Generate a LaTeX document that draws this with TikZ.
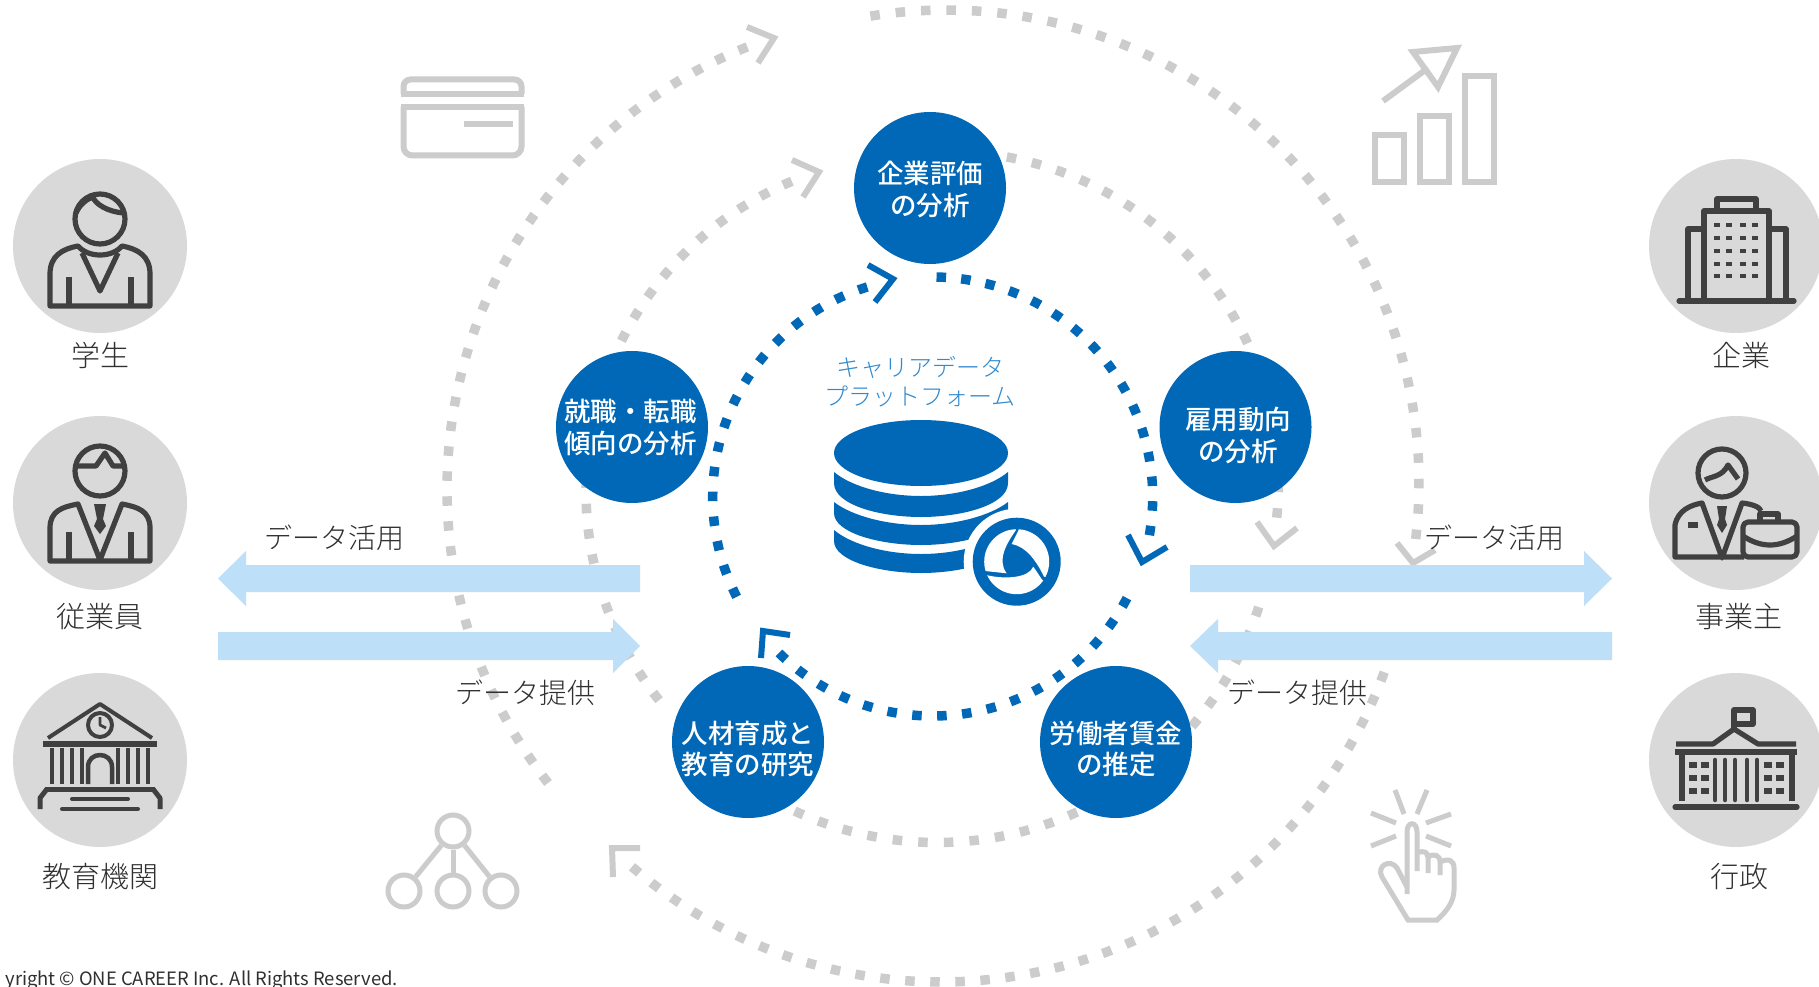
\documentclass[tikz,border=0pt]{standalone}
\usepackage{fontspec}
\setmainfont{Noto Sans CJK JP}
\newfontfamily\lightjp{Noto Sans CJK JP Light}
\newfontfamily\medjp{Noto Sans CJK JP Medium}
\definecolor{mainblue}{HTML}{0068B7}
\definecolor{lightgray}{HTML}{CCCCCC}
\definecolor{bandblue}{HTML}{BDDFF7}
\definecolor{discgray}{HTML}{D9D9D9}
\definecolor{icondark}{HTML}{404040}
\definecolor{txtdark}{HTML}{303030}
\definecolor{txtblue}{HTML}{2F8AD0}
\newcommand\dotarc[6]{%
  \pgfmathsetmacro\dArcLen{abs(#6-#5)*3.14159/180*#4-9.5}%
  \pgfmathsetmacro\dArcN{round(\dArcLen/25.3)}%
  \pgfmathsetmacro\dArcGap{\dArcLen/\dArcN-9.5}%
  \draw[#1,line width=9.5pt,dash pattern=on 9.5pt off \dArcGap pt] plot[domain=#5:#6,samples=180] ({#2+#4*cos(\x)},{#3-#4*sin(\x)});%
}
\tikzset{
  disc/.style={circle,fill=discgray,minimum size=174pt,inner sep=0pt},
  bcirc/.style={circle,fill=mainblue,minimum size=152pt,inner sep=0pt},
  btxt/.style={text=white,font=\fontsize{26.5}{31.5}\selectfont\medjp,align=center,inner sep=0pt},
  lab/.style={text=txtdark,font=\fontsize{29}{34}\selectfont\lightjp,inner sep=0pt},
  dlab/.style={text=txtdark,font=\fontsize{28}{34}\selectfont\lightjp,inner sep=0pt},
  ic/.style={draw=icondark,line width=5.2pt,line join=round},
  gic/.style={draw=lightgray,line width=6pt},
  chevg/.style={draw=lightgray,line width=6pt},
  chevb/.style={draw=mainblue,line width=6pt},
  band/.style={fill=bandblue}
}
\begin{document}
\begin{tikzpicture}[x=1pt,y=-1pt]
\useasboundingbox (0,0) rectangle (1819,987);
\fill[white] (0,0) rectangle (1819,987);
% gray dotted arcs
\dotarc{lightgray}{946}{483}{473}{99.2}{-6.8}
\dotarc{lightgray}{941}{510}{472}{-20.1}{-130.9}
\dotarc{lightgray}{923.5}{489.6}{476.5}{218}{111.7}
\dotarc{lightgray}{947}{483}{331.5}{79.6}{-6}
\dotarc{lightgray}{937}{505}{337.5}{-17.6}{-128}
\dotarc{lightgray}{922}{491}{336}{218.5}{112.8}
\coordinate (gA1) at (747,27); \coordinate (gA2) at (774,38); \coordinate (gA3) at (758,63);
\coordinate (gB1) at (792,160); \coordinate (gB2) at (819,172); \coordinate (gB3) at (803,197);
\coordinate (gC1) at (1257,522); \coordinate (gC2) at (1274,546); \coordinate (gC3) at (1297,528);
\coordinate (gD1) at (1397,543); \coordinate (gD2) at (1413,563); \coordinate (gD3) at (1435,550);
\coordinate (gE1) at (640,848); \coordinate (gE2) at (612,848); \coordinate (gE3) at (613,877);
\draw[chevg] (gA1)--(gA2)--(gA3);
\draw[chevg] (gB1)--(gB2)--(gB3);
\draw[chevg] (gC1)--(gC2)--(gC3);
\draw[chevg] (gD1)--(gD2)--(gD3);
\draw[chevg] (gE1)--(gE2)--(gE3);
% gray icons
\draw[gic,rounded corners=7pt] (403.5,94) -- (403.5,79.5) -- (521.5,79.5) -- (521.5,94) ;
\draw[gic] (401,94) -- (524,94);
\draw[gic,rounded corners=9pt] (403.5,107) -- (403.5,155.5) -- (521.5,155.5) -- (521.5,107);
\draw[gic] (401,107) -- (524,107);
\draw[gic] (464,124) -- (513,124);
\draw[gic] (1375,135) rectangle (1404,182);
\draw[gic] (1420,116) rectangle (1449,182);
\draw[gic] (1465,76) rectangle (1494,182);
\draw[gic,line join=miter] (1413,52) -- (1457,48) -- (1438,87) -- cycle;
\draw[gic] (1383,101) -- (1428,68);
\node[circle,draw=lightgray,line width=5pt,minimum size=32pt,inner sep=0pt] (t0) at (453,831) {};
\node[circle,draw=lightgray,line width=5pt,minimum size=32pt,inner sep=0pt] (t1) at (404,891) {};
\node[circle,draw=lightgray,line width=5pt,minimum size=32pt,inner sep=0pt] (t2) at (453,891) {};
\node[circle,draw=lightgray,line width=5pt,minimum size=32pt,inner sep=0pt] (t3) at (501,891) {};
\draw[draw=lightgray,line width=5pt] (t0) -- (t1);
\draw[draw=lightgray,line width=5pt] (t0) -- (t2);
\draw[draw=lightgray,line width=5pt] (t0) -- (t3);
\begin{scope}[draw=lightgray,line width=5pt]
\draw (1395,790)--(1404,814); \draw (1427,790)--(1417,814);
\draw (1371,813)--(1396,823); \draw (1451,814)--(1426,823);
\draw (1371,846)--(1396,836); \draw (1451,846)--(1426,836);
\draw (1407,894) -- (1407,832) .. controls (1407,821) and (1417,821) .. (1417,832) -- (1417,871);
\draw (1417,853) .. controls (1424,850) and (1428,852) .. (1428,858) -- (1428,873);
\draw (1428,857) .. controls (1434,853) and (1440,855) .. (1440,862) -- (1440,875);
\draw (1440,862) .. controls (1448,858) and (1454,860) .. (1454,868) -- (1454,890) .. controls (1454,902) and (1446,912) .. (1437,920) -- (1408,920) -- (1382,877) .. controls (1376,866) and (1390,858) .. (1397,868) -- (1407,887);
\end{scope}
% bands
\fill[band] (218,578.5) -- (246,551) -- (246,565) -- (640,565) -- (640,592) -- (246,592) -- (246,606) -- cycle;
\fill[band] (218,632) -- (613,632) -- (613,619) -- (640,646) -- (613,673) -- (613,660) -- (218,660) -- cycle;
\fill[band] (1190,565) -- (1584,565) -- (1584,551) -- (1612,578.5) -- (1584,606) -- (1584,592) -- (1190,592) -- cycle;
\fill[band] (1190,646) -- (1218,619) -- (1218,632) -- (1612,632) -- (1612,660) -- (1218,660) -- (1218,673) -- cycle;
% blue dotted arcs
\dotarc{mainblue}{932.7}{497}{220}{89}{-10}
\dotarc{mainblue}{932.7}{497}{219}{-27.5}{-134.6}
\dotarc{mainblue}{932.7}{497}{220}{207}{107.3}
\coordinate (bA1) at (868,265); \coordinate (bA2) at (893,279); \coordinate (bA3) at (875,302);
\coordinate (bB1) at (1128,535); \coordinate (bB2) at (1142,562); \coordinate (bB3) at (1167,547);
\coordinate (bC1) at (790,635); \coordinate (bC2) at (763,631); \coordinate (bC3) at (761,658);
\draw[chevb] (bA1)--(bA2)--(bA3);
\draw[chevb] (bB1)--(bB2)--(bB3);
\draw[chevb] (bC1)--(bC2)--(bC3);
% blue circles
\node[bcirc] (c1) at (930,188) {};
\node[bcirc] (c2) at (1235.5,427) {};
\node[bcirc] (c3) at (632,427) {};
\node[bcirc] (c4) at (748,742) {};
\node[bcirc] (c5) at (1116,742) {};
\node[btxt] (c1t) at (930,189.5) {企業評価\\の分析};
\node[btxt] (c2t) at (1238,435.5) {雇用動向\\の分析};
\node[btxt] (c3t) at (630.5,427.5) {就職・転職\\傾向の分析};
\node[btxt] (c4t) at (748,749) {人材育成と\\教育の研究};
\node[btxt] (c5t) at (1116,749) {労働者賃金\\の推定};
% database
\fill[mainblue] (921,453) ellipse [x radius=87,y radius=33];
\fill[mainblue] (834,472) -- (834,483) .. controls (834,505) and (880,517) .. (921,517) .. controls (962,517) and (1008,505) .. (1008,483) -- (1008,472) .. controls (990,487) and (955,496) .. (921,496) .. controls (887,496) and (852,487) .. (834,472) -- cycle;
\fill[mainblue] (834,502) -- (834,513) .. controls (834,533) and (880,545) .. (921,545) .. controls (962,545) and (1008,533) .. (1008,513) -- (1008,502) .. controls (990,516) and (955,525) .. (921,525) .. controls (887,525) and (852,516) .. (834,502) -- cycle;
\begin{scope}
\clip (800,500) rectangle (965,600);
\fill[mainblue] (834,530) -- (834,541) .. controls (834,561) and (880,573) .. (921,573) .. controls (962,573) and (1008,561) .. (1008,541) -- (1008,530) .. controls (990,545) and (955,554) .. (921,554) .. controls (887,554) and (852,545) .. (834,530) -- cycle;
\end{scope}
% logo
\fill[white] (1016.7,561.7) circle[radius=53];
\fill[mainblue] (1016.7,561.7) circle[radius=44];
\begin{scope}
\clip (1016.7,561.7) circle[radius=32.5];
\begin{scope}[shift={(965,510)},x=0.3333pt,y=-0.3333pt]
\fill[white] (160,62) -- (165,45) -- (300,45) -- (300,215) -- (237,200) .. controls (215,155) and (185,110) .. (140,102) -- cycle;
\fill[white] (232,210) -- (260,225) -- (260,300) -- (50,300) -- (50,192) -- (72,197) .. controls (120,207) and (190,205) .. (205,170) -- cycle;
\fill[white] (60,183) -- (30,183) -- (30,40) -- (150,40) -- (153,60) .. controls (125,100) and (95,150) .. (125,190) -- cycle;
\end{scope}
\end{scope}
% persons: discs
\node[disc] (d1) at (100,246) {};
\node[disc] (d2) at (100,503) {};
\node[disc] (d3) at (100,760) {};
\node[disc] (d4) at (1736,246) {};
\node[disc] (d5) at (1736,503) {};
\node[disc] (d6) at (1736,760) {};
% student
\begin{scope}[shift={(d1.center)}]
\draw[ic] (0,-27) circle[radius=25];
\draw[ic] (-24,-33) .. controls (-20,-42) and (-13,-47) .. (-7,-49) .. controls (-5,-42) and (8,-34) .. (24,-33);
\draw[ic] (-50,60) -- (-50,28) .. controls (-50,10) and (-38,3) .. (-22,0) .. controls (-12,12) and (12,12) .. (22,0) .. controls (38,3) and (50,10) .. (50,28) -- (50,60) -- cycle;
\draw[ic] (-18,7) -- (0,45) -- (18,7);
\draw[ic] (-31,31) -- (-31,60); \draw[ic] (31,31) -- (31,60);
\end{scope}
% employee
\begin{scope}[shift={(d2.center)}]
\draw[ic] (0,-32) circle[radius=25];
\draw[ic] (-25,-37) -- (-4,-37) -- (5,-50) -- (13,-37) -- (25,-37);
\draw[ic] (-50,58) -- (-50,25) .. controls (-50,8) and (-38,4) .. (-22,1) -- (0,57) -- (22,1) .. controls (38,4) and (50,8) .. (50,25) -- (50,58) -- cycle;
\fill[icondark] (-6,1) -- (6,1) -- (3,16) -- (6,23) -- (0,31) -- (-6,23) -- (-3,16) -- cycle;
\draw[ic] (-31,29) -- (-31,58); \draw[ic] (31,29) -- (31,58);
\end{scope}
% education
\begin{scope}[shift={(d3.center)}]
\draw[ic,line width=4pt] (-52,-22) -- (0,-56) -- (52,-22);
\draw[ic,line width=4pt] (0,-35) circle[radius=12];
\draw[ic,line width=2.8pt] (0,-43) -- (0,-35) -- (6,-32);
\draw[ic,line width=5.5pt] (-57,-16) -- (57,-16);
\foreach \cx in {-48,-38,-28,-18,18,28,38,48}{\draw[ic,line width=4.5pt] (\cx,-12) -- (\cx,24);}
\draw[ic,line width=4.5pt] (-12,24) -- (-12,7) .. controls (-12,-9) and (12,-9) .. (12,7) -- (12,24);
\draw[ic,line width=5pt] (-55,29) -- (55,29);
\draw[ic,line width=5pt] (-60,49) -- (-60,38) -- (-53,29);
\draw[ic,line width=5pt] (60,49) -- (60,38) -- (53,29);
\draw[ic,line width=4pt,line cap=round] (-28,39) -- (28,39);
\draw[ic,line width=4pt,line cap=round] (-38,49) -- (38,49);
\end{scope}
% company
\begin{scope}[shift={(d4.center)}]
\draw[ic] (-32,52) -- (-32,-35) -- (33,-35) -- (33,52);
\draw[ic] (-19,-35) -- (-19,-47) -- (20,-47) -- (20,-35);
\draw[ic] (-32,-17) -- (-48,-17) -- (-48,52);
\draw[ic] (33,-17) -- (50,-17) -- (50,52);
\draw[ic,line cap=round] (-57,55) -- (58,55);
\foreach \wy in {-21,-8,5,18,30}{\foreach \wx in {-19,-7,7,19}{\fill[icondark] (\wx-3,\wy-2) rectangle (\wx+3,\wy+2);}}
\end{scope}
% owner
\begin{scope}[shift={(d5.center)}]
\draw[ic] (-14,-30) circle[radius=24];
\draw[ic] (-31,-23) .. controls (-24,-27) and (-14,-26) .. (-8,-38) -- (2,-24);
\draw[ic] (8,54) -- (-61,54) -- (-61,22) .. controls (-58,7) and (-45,2) .. (-34,0) -- (-14,55) -- (6,0) .. controls (16,1) and (24,4) .. (25,8);
\draw[ic] (-48,22) -- (-38,22);
\fill[icondark] (-19,3) -- (-9,3) -- (-11,16) -- (-9,22) -- (-14,30) -- (-19,22) -- (-17,16) -- cycle;
\draw[ic,rounded corners=5pt] (7,19) rectangle (61,54);
\draw[ic] (24,19) -- (24,11) -- (42,11) -- (42,19);
\draw[ic] (7,33) .. controls (25,45) and (43,45) .. (61,33);
\end{scope}
% government
\begin{scope}[shift={(d6.center)}]
\draw[ic] (-2,-31) -- (-2,-50) -- (17,-50) -- (17,-36) -- (-2,-36);
\draw[ic] (-60,-16) -- (-23,-16) -- (-2,-31) -- (22,-16) -- (60,-16);
\draw[ic] (-61,-8) -- (61,-8);
\draw[ic] (-54,-8) -- (-54,41);
\draw[ic] (56,-8) -- (56,41);
\draw[ic,line cap=round] (-61,47) -- (61,47);
\foreach \wx in {-43,-31,32,44}{\foreach \wy in {5,18,31}{\fill[icondark] (\wx-4,\wy-3.2) rectangle (\wx+4,\wy+3.2);}}
\foreach \wx in {-21,-11,-1,11,21}{\draw[ic,line width=4.5pt,line cap=round] (\wx,0) -- (\wx,40);}
\end{scope}
% text labels
\node[lab] (l1) at (100,355) {学生};
\node[lab] (l2) at (100,617) {従業員};
\node[lab] (l3) at (100,876) {教育機関};
\node[lab] (l4) at (1741,355) {企業};
\node[lab] (l5) at (1739,617) {事業主};
\node[lab] (l6) at (1739,876) {行政};
\node[dlab] (f1) at (334,538) {データ活用};
\node[dlab] (f2) at (1494,538) {データ活用};
\node[dlab] (f3) at (525.5,692.5) {データ提供};
\node[dlab] (f4) at (1297,692.5) {データ提供};
\node[text=txtblue,font=\fontsize{24}{29}\selectfont\lightjp,align=center,inner sep=0pt] (plat) at (920,381.5) {キャリアデータ\\プラットフォーム};
\node[text=txtdark,font=\fontsize{18.4}{22}\selectfont,anchor=east,inner sep=0pt] (copy) at (398,980) {yright © ONE CAREER Inc. All Rights Reserved.};
\end{tikzpicture}
\end{document}
